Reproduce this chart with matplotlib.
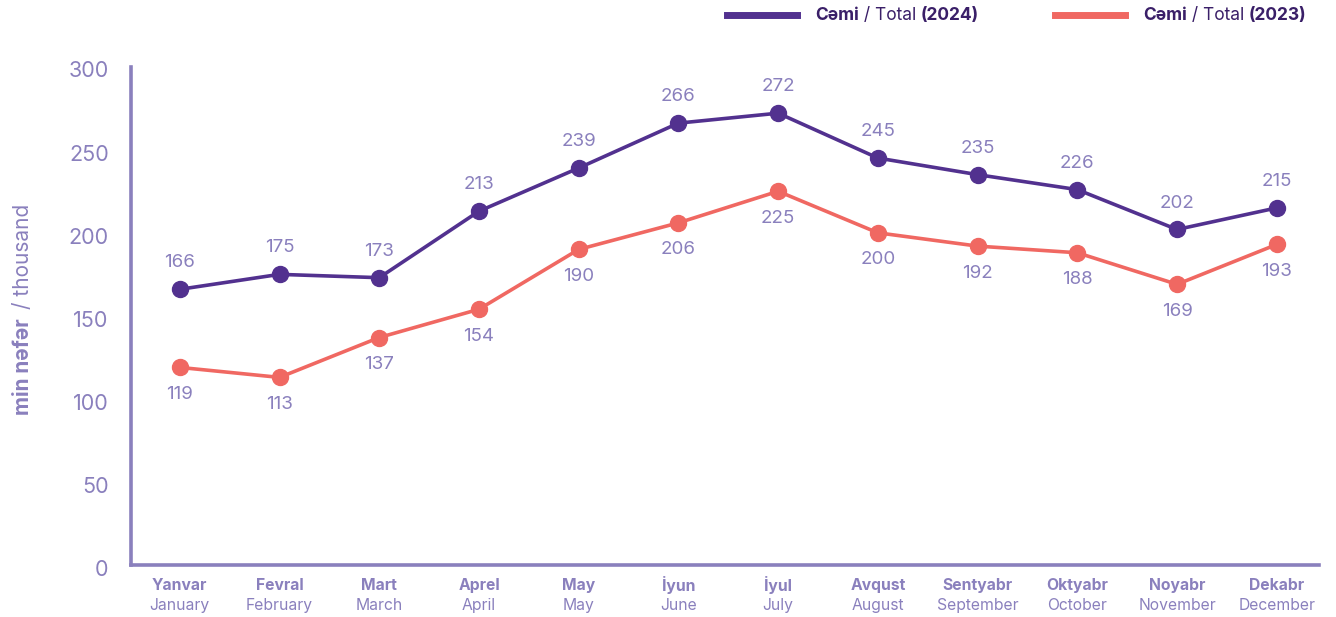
import matplotlib.pyplot as plt
from matplotlib.lines import Line2D
from matplotlib.transforms import ScaledTranslation

plt.rcParams['font.family'] = ['Inter', 'DejaVu Sans']

months_az = ['Yanvar', 'Fevral', 'Mart', 'Aprel', 'May', 'İyun', 'İyul',
             'Avqust', 'Sentyabr', 'Oktyabr', 'Noyabr', 'Dekabr']
months_en = ['January', 'February', 'March', 'April', 'May', 'June', 'July',
             'August', 'September', 'October', 'November', 'December']
total_2024 = [166, 175, 173, 213, 239, 266, 272, 245, 235, 226, 202, 215]
total_2023 = [119, 113, 137, 154, 190, 206, 225, 200, 192, 188, 169, 193]
yticks = [0, 50, 100, 150, 200, 250, 300]

c24 = '#52318f'
c23 = '#f06862'
txt = '#8a80bd'
dark = '#3a1f68'

fig = plt.figure(figsize=(13.36, 6.17), dpi=100)
ax = fig.add_axes([0.098, 0.084, 0.889, 0.808])

x = list(range(len(months_az)))
ax.plot(x, total_2024, color=c24, lw=2.6, marker='o', ms=11.5, zorder=3)
ax.plot(x, total_2023, color=c23, lw=2.6, marker='o', ms=11.5, zorder=3)

for i, v in enumerate(total_2024):
    ax.annotate(str(v), (i, v), xytext=(0, 19), textcoords='offset points',
                ha='center', va='center', fontsize=13.5, color=txt)
for i, v in enumerate(total_2023):
    ax.annotate(str(v), (i, v), xytext=(0, -19.5), textcoords='offset points',
                ha='center', va='center', fontsize=13.5, color=txt)

ax.set_xlim(-0.49, 11.42)
ax.set_ylim(0, 300)
ax.set_yticks(yticks)
ax.set_yticklabels([str(t) for t in yticks], fontsize=15.5, color=txt)
ax.tick_params(axis='y', length=0, pad=16)
shift = ScaledTranslation(0, -2 / 72, fig.dpi_scale_trans)
for lab in ax.get_yticklabels():
    lab.set_transform(lab.get_transform() + shift)
ax.set_xticks([])
for s in ['top', 'right']:
    ax.spines[s].set_visible(False)
for s in ['left', 'bottom']:
    ax.spines[s].set_color(txt)
    ax.spines[s].set_linewidth(2.6)

for i in x:
    ax.annotate(months_az[i], (i, 0), xytext=(0, -14.5), textcoords='offset points',
                xycoords=('data', 'axes fraction'), ha='center', va='center',
                fontsize=11.3, fontweight='bold', color=txt)
    ax.annotate(months_en[i], (i, 0), xytext=(0, -29), textcoords='offset points',
                xycoords=('data', 'axes fraction'), ha='center', va='center',
                fontsize=11.3, color=txt)

fig.canvas.draw()
r = fig.canvas.get_renderer()

# y label, bold part + normal part
t1 = fig.text(0.017, 1 - 415 / 617, 'min nəfər', rotation=90, ha='center',
              va='bottom', fontsize=15, fontweight='bold', color=txt)
fig.canvas.draw()
top = t1.get_window_extent(r).y1
fig.text(0.017, (top + 9) / fig.bbox.height, '/ thousand', rotation=90,
         ha='center', va='bottom', fontsize=15, color=txt)


def legend_item(x0, color, year):
    y0 = 1 - 15 / 617
    fig.add_artist(Line2D([x0 / 1336, (x0 + 70) / 1336], [y0, y0],
                          color=color, lw=5, transform=fig.transFigure))
    a = fig.text((x0 + 88) / 1336, y0, 'Cəmi', ha='left', va='center',
                 fontsize=12.5, fontweight='bold', color=dark)
    b = fig.text(0, 0, ' / Total ', ha='left', va='center', fontsize=12.5,
                 color=dark)
    c = fig.text(0, 0, '(' + year + ')', ha='left', va='center', fontsize=12.5,
                 fontweight='bold', color=dark)
    fig.canvas.draw()
    bb = a.get_window_extent(r)
    b.set_position((bb.x1 / fig.bbox.width, y0))
    fig.canvas.draw()
    bb = b.get_window_extent(r)
    c.set_position((bb.x1 / fig.bbox.width, y0))


legend_item(727, c24, '2024')
legend_item(1055, c23, '2023')

fig.savefig('out.png', dpi=100)
